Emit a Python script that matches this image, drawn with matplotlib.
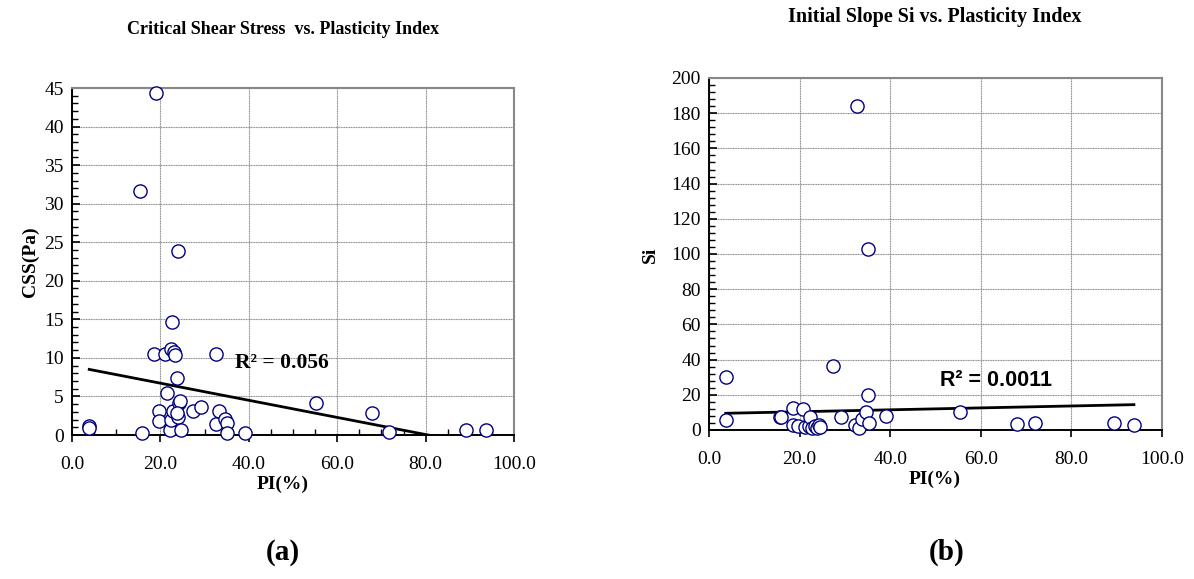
import matplotlib
matplotlib.use("Agg")
import matplotlib.pyplot as plt
from matplotlib.ticker import MultipleLocator, FormatStrFormatter
import numpy as np

# ---- data ----
pi_a = [3.9, 3.9, 15.4, 15.8, 18.6, 18.9, 19.7, 19.7, 21.0, 21.4, 22.2, 22.3, 22.4,
        22.7, 22.9, 23.1, 23.2, 23.8, 23.9, 24.0, 24.2, 24.4, 24.6, 23.8, 27.3, 29.2,
        32.6, 32.6, 33.2, 34.6, 35.1, 35.1, 39.1, 55.3, 67.8, 71.7, 89.1, 93.6]
css = [1.16, 0.9, 31.6, 0.3, 10.5, 44.4, 3.1, 1.85, 10.5, 5.5, 0.65, 11.1, 2.0,
       14.6, 3.1, 10.7, 10.4, 7.4, 23.9, 2.3, 4.1, 4.4, 0.65, 2.8, 3.1, 3.6,
       10.5, 1.4, 3.1, 2.1, 1.5, 0.2, 0.3, 4.1, 2.9, 0.43, 0.65, 0.65]

pi_b = [3.7, 3.7, 15.6, 15.9, 18.6, 18.6, 19.7, 20.8, 21.1, 22.1, 22.3, 22.8, 23.4,
        23.8, 24.3, 24.6, 27.3, 29.1, 32.2, 32.7, 33.2, 33.8, 34.6, 35.0, 35.2, 35.3,
        39.1, 55.3, 68.0, 71.9, 89.5, 93.8]
si = [30.0, 5.7, 7.6, 7.2, 12.5, 3.0, 2.4, 12.0, 1.5, 2.4, 7.6, 1.2, 2.0,
      1.2, 2.6, 1.5, 36.1, 7.6, 2.8, 184.2, 1.1, 6.0, 10.0, 20.1, 102.6, 4.2,
      8.1, 10.0, 3.4, 4.2, 4.2, 2.6]

# linear trend lines (slope, intercept) as shown in the chart
trend_a = (-0.111, 8.94)
trend_b = (0.0545, 9.29)
r2_a = "0.056"
r2_b = "0.0011"

x_ticks = [0, 20, 40, 60, 80, 100]

SERIF = ["Liberation Serif", "DejaVu Serif"]
SANS = ["Liberation Sans", "DejaVu Sans"]
NAVY = "#000080"
GRID = "#8c8c8c"

fig = plt.figure(figsize=(11.94, 5.79), dpi=100)

def style_axes(ax, ymax, ymajor, yminor, xminor):
    ax.set_xlim(0, 100)
    ax.set_ylim(0, ymax)
    ax.set_xticks(x_ticks)
    ax.yaxis.set_major_locator(MultipleLocator(ymajor))
    ax.yaxis.set_minor_locator(MultipleLocator(yminor))
    if xminor:
        ax.xaxis.set_minor_locator(MultipleLocator(xminor))
    ax.xaxis.set_major_formatter(FormatStrFormatter("%.1f"))
    ax.grid(True, which="major", color=GRID, linewidth=0.8, linestyle=(0, (1, 0.5)))
    for s in ["top", "right"]:
        ax.spines[s].set_color("#888888")
        ax.spines[s].set_linewidth(1.5)
    for s in ["left", "bottom"]:
        ax.spines[s].set_color("black")
        ax.spines[s].set_linewidth(1.4)
    ax.tick_params(axis="y", which="major", direction="in", length=6, width=1.2,
                   labelsize=14, pad=6)
    ax.tick_params(axis="y", which="minor", direction="in", length=4, width=1.0)
    ax.tick_params(axis="x", which="major", direction="out", length=5, width=1.2,
                   labelsize=14, pad=10)
    ax.tick_params(axis="x", which="minor", direction="in", length=4, width=1.0)
    ax.tick_params(top=False, right=False, which="both")
    for lab in ax.get_xticklabels() + ax.get_yticklabels():
        lab.set_family(SERIF)
    ax.set_axisbelow(True)

# ---- panel (a) ----
ax1 = fig.add_axes([72/1194, 1-435/579, (514-72)/1194, (435-88)/579])
ax1.plot(pi_a, css, linestyle="none", marker="o", markersize=9.5, markerfacecolor="white",
         markeredgecolor=NAVY, markeredgewidth=1.0, clip_on=False, zorder=3)
xa = np.array([min(pi_a), max(pi_a)])
ax1.plot(xa, trend_a[0]*xa + trend_a[1], color="black", linewidth=2, zorder=2)
style_axes(ax1, 45, 5, 1, 5)
ax1.text(36.9, 9.4, "R\u00b2 = " + r2_a, fontsize=15.5, fontweight="bold",
         family=SERIF, va="center", ha="left", zorder=4)
ax1.set_xlabel("PI(%)", fontsize=14, fontweight="bold", family=SERIF, va="center")
ax1.xaxis.set_label_coords(0.477, -0.141)
ax1.set_ylabel("CSS(Pa)", fontsize=14, fontweight="bold", family=SERIF, va="center")
ax1.yaxis.set_label_coords(-0.095, 0.5)
fig.text(283/1194, 1-30/579, "Critical Shear Stress  vs. Plasticity Index", fontsize=13,
         fontweight="bold", family=SERIF, ha="center", va="center")
fig.text(283/1194, 1-552/579, "(a)", fontsize=21, fontweight="bold", family=SERIF,
         ha="center", va="center")

# ---- panel (b) ----
ax2 = fig.add_axes([709/1194, 1-430/579, (1162-709)/1194, (430-78)/579])
ax2.plot(pi_b, si, linestyle="none", marker="o", markersize=9.5, markerfacecolor="white",
         markeredgecolor=NAVY, markeredgewidth=1.0, clip_on=False, zorder=3)
xb = np.array([min(pi_b), max(pi_b)])
ax2.plot(xb, trend_b[0]*xb + trend_b[1], color="black", linewidth=2, zorder=2)
style_axes(ax2, 200, 20, 4, None)
ax2.text(51.1, 28.1, "R\u00b2 = " + r2_b, fontsize=15.5, fontweight="bold",
         family=SANS, va="center", ha="left", zorder=4)
ax2.set_xlabel("PI(%)", fontsize=14, fontweight="bold", family=SERIF, va="center")
ax2.xaxis.set_label_coords(0.499, -0.139)
ax2.set_ylabel("Si", fontsize=14, fontweight="bold", family=SERIF, va="center")
ax2.yaxis.set_label_coords(-0.130, 0.497)
fig.text(935/1194, 1-17/579, "Initial Slope Si vs. Plasticity Index", fontsize=14.5,
         fontweight="bold", family=SERIF, ha="center", va="center")
fig.text(947/1194, 1-552/579, "(b)", fontsize=21, fontweight="bold", family=SERIF,
         ha="center", va="center")

fig.savefig("out.png", dpi=100)
